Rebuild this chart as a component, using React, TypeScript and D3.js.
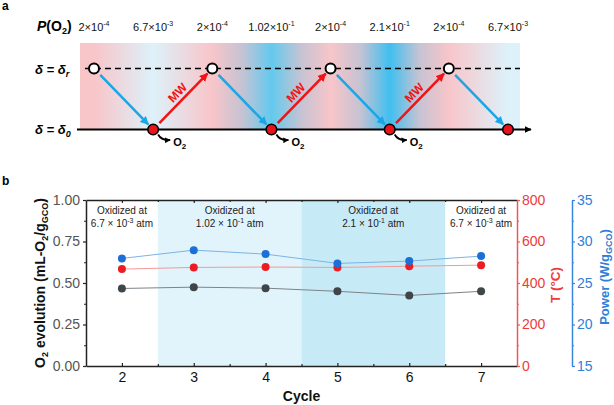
import React, { useEffect, useRef } from "react";
import * as d3 from "d3";

// ---------- Panel a data ----------
const pressureMantissa = ["2", "6.7", "2", "1.02", "2", "2.1", "2", "6.7"];
const pressureExponent = [-4, -3, -4, -1, -4, -1, -4, -3];
const deltaState = ["r", "0", "r", "0", "r", "0", "r", "0"];
const o2ReleaseSteps = [1, 3, 5];

// ---------- Panel b data ----------
const cycles = [2, 3, 4, 5, 6, 7];
const o2Evolution = [0.467, 0.475, 0.469, 0.45, 0.425, 0.45];
const temperature = [467, 475, 477, 475, 481, 486];
const power = [27.96, 28.96, 28.48, 27.36, 27.64, 28.24];
const regionStart = [1.5, 2.5, 4.5, 6.5];
const regionEnd = [2.5, 4.5, 6.5, 7.5];
const regionMantissa = ["6.7", "1.02", "2.1", "6.7"];
const regionExponent = [-3, -1, -1, -3];
const leftTicks = [0, 0.25, 0.5, 0.75, 1];
const tempTicks = [0, 200, 400, 600, 800];
const powerTicks = [15, 20, 25, 30, 35];

const FONT = "'Liberation Sans', Arial, Helvetica, sans-serif";

function pressureColor(m: string, e: number) {
  const v = parseFloat(m) * Math.pow(10, e);
  if (v < 1e-3) return "#f8c5c9";
  if (v < 1e-2) return "#ddf1fa";
  if (v < 0.15) return "#62caef";
  return "#3fbff0";
}

export default function App() {
  const ref = useRef<SVGSVGElement>(null);
  useEffect(() => {
    const svg = d3.select(ref.current);
    svg.selectAll("*").remove();
    const defs = svg.append("defs");

    // ===================== PANEL A =====================
    svg.append("text").attr("x", 2).attr("y", 10).attr("font-size", 12).attr("font-weight", "bold").text("a");
    const stepX = d3.scaleLinear().domain([0, 7]).range([94, 508]);
    const levelY = d3.scalePoint<string>().domain(["r", "0"]).range([68.5, 129.5]);
    const bgL = 80, bgR = 520, bgT = 43, bgB = 129.5;
    const off = (x: number) => (x - bgL) / (bgR - bgL);

    const grad = defs.append("linearGradient").attr("id", "bgGrad").attr("x1", 0).attr("x2", 1).attr("y1", 0).attr("y2", 0);
    const cols = pressureMantissa.map((m, i) => pressureColor(m, pressureExponent[i]));
    grad.append("stop").attr("offset", 0).attr("stop-color", cols[0]);
    cols.forEach((c, i) => {
      grad.append("stop").attr("offset", off(stepX(i))).attr("stop-color", c);
      if (i < cols.length - 1) {
        const strong = pressureExponent[i] === -1 || pressureExponent[i + 1] === -1;
        if (strong) {
          grad.append("stop").attr("offset", off((stepX(i) + stepX(i + 1)) / 2)).attr("stop-color", "#c6c3d3");
        }
      }
    });
    grad.append("stop").attr("offset", 1).attr("stop-color", cols[cols.length - 1]);
    svg.append("rect").attr("x", bgL).attr("y", bgT).attr("width", bgR - bgL).attr("height", bgB - bgT).attr("fill", "url(#bgGrad)");

    // markers
    const mk = (id: string, color: string, size: number) => {
      defs.append("marker").attr("id", id).attr("viewBox", "0 0 10 10").attr("refX", 9).attr("refY", 5)
        .attr("markerWidth", size).attr("markerHeight", size).attr("orient", "auto")
        .append("path").attr("d", "M0,0 L10,5 L0,10 z").attr("fill", color);
    };
    mk("arrBlue", "#1ba7e6", 3.4);
    mk("arrRed", "#f01414", 3.4);
    mk("arrBlack", "#000", 3.4);
    mk("arrO2", "#000", 3.2);

    // level lines
    svg.append("line").attr("x1", 85).attr("x2", bgR).attr("y1", levelY("r")!).attr("y2", levelY("r")!)
      .attr("stroke", "#000").attr("stroke-width", 1.3).attr("stroke-dasharray", "6,4");
    svg.append("line").attr("x1", 77).attr("x2", 531).attr("y1", levelY("0")!).attr("y2", levelY("0")!)
      .attr("stroke", "#000").attr("stroke-width", 2).attr("marker-end", "url(#arrBlack)");

    // level labels
    const lbl = (y: number, sub: string) => {
      const t = svg.append("text").attr("x", 35).attr("y", y).attr("font-size", 13).attr("font-weight", "bold").attr("font-style", "italic");
      t.append("tspan").text("δ = δ");
      t.append("tspan").attr("font-size", 9).attr("dy", 3).text(sub);
    };
    lbl(levelY("r")! + 5, "r");
    lbl(levelY("0")! + 4, "0");

    // P(O2) header
    const ph = svg.append("text").attr("x", 37).attr("y", 31).attr("font-size", 14).attr("font-weight", "bold");
    ph.append("tspan").attr("font-style", "italic").text("P");
    ph.append("tspan").text("(O");
    ph.append("tspan").attr("font-size", 9).attr("dy", 3).text("2");
    ph.append("tspan").attr("dy", -3).text(")");
    pressureMantissa.forEach((m, i) => {
      const t = svg.append("text").attr("x", stepX(i)).attr("y", 31).attr("font-size", 11).attr("text-anchor", "middle").attr("fill", "#111");
      t.append("tspan").text(`${m}×10`);
      t.append("tspan").attr("font-size", 7).attr("dy", -5).text(`-${-pressureExponent[i]}`);
    });

    // arrows
    for (let i = 0; i < deltaState.length - 1; i++) {
      const x0 = stepX(i), y0 = levelY(deltaState[i])!;
      const x1 = stepX(i + 1), y1 = levelY(deltaState[i + 1])!;
      const dx = x1 - x0, dy = y1 - y0, L = Math.hypot(dx, dy);
      const ux = dx / L, uy = dy / L;
      const sx = x0 + ux * 9, sy = y0 + uy * 9, ex = x1 - ux * 7, ey = y1 - uy * 7;
      const down = dy > 0;
      svg.append("line").attr("x1", sx).attr("y1", sy).attr("x2", ex).attr("y2", ey)
        .attr("stroke", down ? "#1ba7e6" : "#f01414").attr("stroke-width", 2.5)
        .attr("marker-end", down ? "url(#arrBlue)" : "url(#arrRed)");
      if (!down) {
        const mx = (sx + ex) / 2 + uy * 8, my = (sy + ey) / 2 - ux * 8;
        const ang = (Math.atan2(uy, ux) * 180) / Math.PI;
        svg.append("text").attr("transform", `translate(${mx},${my}) rotate(${ang})`)
          .attr("text-anchor", "middle").attr("dominant-baseline", "central")
          .attr("font-size", 12).attr("font-weight", "bold").attr("fill", "#f01414").text("MW");
      }
    }

    // O2 release
    o2ReleaseSteps.forEach((i) => {
      const x = stepX(i), y = levelY(deltaState[i])!;
      svg.append("path").attr("d", `M${x + 5},${y + 5} Q${x + 8},${y + 11} ${x + 17},${y + 10.5}`)
        .attr("fill", "none").attr("stroke", "#000").attr("stroke-width", 1.8).attr("marker-end", "url(#arrO2)");
      const t = svg.append("text").attr("x", x + 20).attr("y", y + 16.5).attr("font-size", 11).attr("font-weight", "bold");
      t.append("tspan").text("O");
      t.append("tspan").attr("font-size", 8).attr("dy", 3).text("2");
    });

    // circles
    deltaState.forEach((s, i) => {
      const reduced = s === "r";
      svg.append("circle").attr("cx", stepX(i)).attr("cy", levelY(s)!).attr("r", reduced ? 5 : 5.3)
        .attr("fill", reduced ? "#fff" : "#e8141b").attr("stroke", "#000").attr("stroke-width", reduced ? 2 : 1.5);
    });

    // ===================== PANEL B =====================
    svg.append("text").attr("x", 2).attr("y", 185).attr("font-size", 12).attr("font-weight", "bold").text("b");
    const xB = d3.scaleLinear().domain([1.5, 7.5]).range([86, 517]);
    const yL = d3.scaleLinear().domain([0, 1]).range([366, 200]);
    const yT = d3.scaleLinear().domain([0, 800]).range([366, 200]);
    const yP = d3.scaleLinear().domain([15, 35]).range([366, 200]);
    const regionFills = [null, "#e1f4fb", "#c7eaf7", null];

    regionStart.forEach((s, i) => {
      if (regionFills[i]) {
        svg.append("rect").attr("x", xB(s)).attr("y", yL(1)).attr("width", xB(regionEnd[i]) - xB(s))
          .attr("height", yL(0) - yL(1)).attr("fill", regionFills[i]!);
      }
      const cx = xB((s + regionEnd[i]) / 2);
      svg.append("text").attr("x", cx).attr("y", 214).attr("font-size", 10).attr("text-anchor", "middle").attr("fill", "#222").text("Oxidized at");
      const t = svg.append("text").attr("x", cx).attr("y", 226.5).attr("font-size", 10).attr("text-anchor", "middle").attr("fill", "#222");
      t.append("tspan").text(`${regionMantissa[i]} × 10`);
      t.append("tspan").attr("font-size", 7).attr("dy", -4).text(`-${-regionExponent[i]}`);
      t.append("tspan").attr("dy", 4).text(" atm");
    });

    const styleAxis = (g: any, color: string, textColor: string) => {
      g.attr("font-family", FONT).attr("font-size", 14);
      g.selectAll("path.domain").attr("stroke", color).attr("stroke-width", 1.5);
      g.selectAll(".tick line").attr("stroke", color).attr("stroke-width", 1.2);
      g.selectAll(".tick text").attr("fill", textColor);
    };
    const minor = (vals: number[]) => vals.slice(0, -1).map((v, i) => (v + vals[i + 1]) / 2);

    // left
    const gl = svg.append("g").attr("transform", "translate(86,0)")
      .call(d3.axisLeft(yL).tickValues(leftTicks).tickFormat(d3.format(".2f")).tickSize(3).tickSizeOuter(0).tickPadding(3));
    styleAxis(gl, "#222", "#555");
    const glm = svg.append("g").attr("transform", "translate(86,0)").call(d3.axisLeft(yL).tickValues(minor(leftTicks)).tickSize(2).tickFormat(() => ""));
    glm.select(".domain").remove(); styleAxis(glm, "#222", "#555");

    // bottom
    const gbx = svg.append("g").attr("transform", "translate(0,366)")
      .call(d3.axisBottom(xB).tickValues(cycles).tickFormat(d3.format("d")).tickSize(-3).tickSizeOuter(0).tickPadding(6));
    styleAxis(gbx, "#222", "#111");
    const gbm = svg.append("g").attr("transform", "translate(0,366)").call(d3.axisBottom(xB).tickValues(minor(cycles)).tickSize(-2).tickFormat(() => ""));
    gbm.select(".domain").remove(); styleAxis(gbm, "#222", "#111");
    // top
    const gt = svg.append("g").attr("transform", "translate(0,200)")
      .call(d3.axisTop(xB).tickValues(cycles).tickFormat(() => "").tickSize(-3).tickSizeOuter(0));
    styleAxis(gt, "#222", "#111");
    const gtm = svg.append("g").attr("transform", "translate(0,200)").call(d3.axisTop(xB).tickValues(minor(cycles)).tickSize(-2).tickFormat(() => ""));
    gtm.select(".domain").remove(); styleAxis(gtm, "#222", "#111");

    // right red
    const redA = "#f05858", redT = "#f03a3a";
    const gr = svg.append("g").attr("transform", "translate(517,0)")
      .call(d3.axisRight(yT).tickValues(tempTicks).tickSize(3).tickSizeOuter(0).tickPadding(2));
    styleAxis(gr, redA, redT);
    const grm = svg.append("g").attr("transform", "translate(517,0)").call(d3.axisRight(yT).tickValues(minor(tempTicks)).tickSize(2).tickFormat(() => ""));
    grm.select(".domain").remove(); styleAxis(grm, redA, redT);

    // right blue
    const blueA = "#3a86dc", blueT = "#2f7fd8";
    const gp = svg.append("g").attr("transform", "translate(572,0)")
      .call(d3.axisRight(yP).tickValues(powerTicks).tickSize(3).tickSizeOuter(0).tickPadding(2));
    styleAxis(gp, blueA, blueT);
    const gpm = svg.append("g").attr("transform", "translate(572,0)").call(d3.axisRight(yP).tickValues(minor(powerTicks)).tickSize(2).tickFormat(() => ""));
    gpm.select(".domain").remove(); styleAxis(gpm, blueA, blueT);

    // titles
    const lt = svg.append("text").attr("transform", "translate(45,283) rotate(-90)").attr("text-anchor", "middle")
      .attr("font-size", 14).attr("font-weight", "bold").attr("fill", "#111");
    lt.append("tspan").text("O");
    lt.append("tspan").attr("font-size", 9).attr("dy", 3).text("2");
    lt.append("tspan").attr("dy", -3).text(" evolution (mL-O");
    lt.append("tspan").attr("font-size", 9).attr("dy", 3).text("2");
    lt.append("tspan").attr("dy", -3).text("/g");
    lt.append("tspan").attr("font-size", 9).attr("dy", 3).text("GCO");
    lt.append("tspan").attr("dy", -3).text(")");

    svg.append("text").attr("transform", "translate(560,285) rotate(-90)").attr("text-anchor", "middle")
      .attr("font-size", 13.5).attr("font-weight", "bold").attr("fill", redT).text("T (°C)");
    const pt = svg.append("text").attr("transform", "translate(609,277) rotate(-90)").attr("text-anchor", "middle")
      .attr("font-size", 13).attr("font-weight", "bold").attr("fill", blueT);
    pt.append("tspan").text("Power (W/g");
    pt.append("tspan").attr("font-size", 9).attr("dy", 2.5).text("GCO");
    pt.append("tspan").attr("dy", -2.5).text(")");

    svg.append("text").attr("x", xB(4.5)).attr("y", 401).attr("text-anchor", "middle").attr("font-size", 14)
      .attr("font-weight", "bold").attr("fill", "#111").text("Cycle");

    // series
    const series = [
      { vals: o2Evolution, y: yL, line: "#7d8388", dot: "#404548" },
      { vals: temperature, y: yT, line: "#f39a9a", dot: "#ec1c24" },
      { vals: power, y: yP, line: "#7db2e6", dot: "#1c6fd9" },
    ];
    series.forEach((s) => {
      const line = d3.line<number>().x((_, i) => xB(cycles[i])).y((v) => s.y(v));
      svg.append("path").attr("d", line(s.vals)!).attr("fill", "none").attr("stroke", s.line).attr("stroke-width", 1);
      svg.selectAll(null).data(s.vals).enter().append("circle")
        .attr("cx", (_, i) => xB(cycles[i])).attr("cy", (v) => s.y(v)).attr("r", 4).attr("fill", s.dot);
    });
  }, []);
  return (
    <svg ref={ref} width={614} height={405}
      style={{ position: "absolute", left: 0, top: 0, fontFamily: FONT, background: "#fff" }} />
  );
}
